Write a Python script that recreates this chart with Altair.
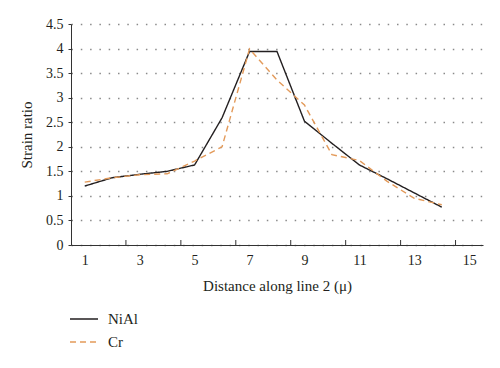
import altair as alt
import pandas as pd

positions = list(range(1, 15))
nial = [1.20, 1.37, 1.44, 1.50, 1.63, 2.59, 3.94, 3.94, 2.52, 2.07, 1.63, 1.35, 1.06, 0.77]
cr = [1.28, 1.37, 1.43, 1.45, 1.71, 2.00, 3.99, 3.36, 2.85, 1.84, 1.72, 1.30, 0.95, 0.82]
series = ["NiAl", "Cr"]
x_labels = [1, 3, 5, 7, 9, 11, 13, 15]
x_boundaries = [2.5, 4.5, 6.5, 8.5, 10.5, 12.5, 14.5]
y_ticks = [0, 0.5, 1, 1.5, 2, 2.5, 3, 3.5, 4, 4.5]

rows = []
for p, v in zip(positions, nial):
    rows.append({"pos": p, "ratio": v, "series": "NiAl"})
for p, v in zip(positions, cr):
    rows.append({"pos": p, "ratio": v, "series": "Cr"})
df = pd.DataFrame(rows)
bdf = pd.DataFrame({"b": x_boundaries})

FONT = "Liberation Serif"
INK = "#231f20"
W, H = 412, 221

xscale = alt.Scale(domain=[0.5, 15.5], nice=False, zero=False)

lines = alt.Chart(df).mark_line(strokeWidth=1.4).encode(
    x=alt.X("pos:Q", scale=xscale,
            axis=alt.Axis(values=x_labels, title="Distance along line 2 (\u03bc)",
                          grid=False, ticks=False, labelPadding=8,
                          titlePadding=11, domainColor="#333333")),
    y=alt.Y("ratio:Q", scale=alt.Scale(domain=[0, 4.5], nice=False),
            axis=alt.Axis(values=y_ticks, format="~g", title="Strain ratio",
                          grid=True, gridDash=[1.5, 7.8], gridColor="#8a8a8a",
                          gridWidth=1.5, tickSize=3, tickColor="#333333",
                          labelPadding=5, titlePadding=11, domainColor="#333333")),
    color=alt.Color("series:N", sort=series,
                    scale=alt.Scale(domain=series, range=[INK, "#e39a5a"]),
                    legend=alt.Legend(title=None, orient="none", legendX=-2, legendY=280,
                                      direction="vertical", symbolType="stroke",
                                      symbolSize=784, symbolStrokeWidth=1.5,
                                      labelFont=FONT, labelFontSize=15, labelColor=INK,
                                      rowPadding=-8, labelOffset=9)),
    strokeDash=alt.StrokeDash("series:N", sort=series,
                              scale=alt.Scale(domain=series, range=[[1, 0], [6, 4]]),
                              legend=None),
    order=alt.Order("pos:Q"),
)

ticks = alt.Chart(bdf).mark_rule(color="#333333", strokeWidth=1).encode(
    x=alt.X("b:Q", scale=xscale),
    y=alt.value(H),
    y2=alt.value(H - 5),
)

chart = alt.layer(ticks, lines).properties(
    width=W, height=H,
    autosize=alt.AutoSizeParams(type="none"),
    padding={"left": 63, "top": 16, "right": 9, "bottom": 115},
).configure_view(stroke=None).configure_axis(
    labelFont=FONT, titleFont=FONT, labelFontSize=14, titleFontSize=15,
    labelColor=INK, titleColor=INK, titleFontWeight="normal",
)

chart.save("out.html", embed_options={"renderer": "svg", "actions": False})
